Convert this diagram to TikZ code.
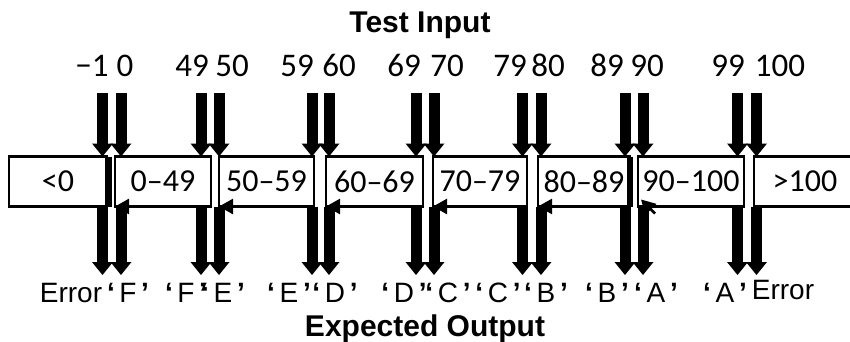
\documentclass[tikz,border=0pt]{standalone}
\usepackage{fontspec}
\setmainfont{Liberation Sans}
\newfontfamily\numfont{Carlito}
\usetikzlibrary{arrows.meta}

\newcommand{\grade}[1]{{\bfseries‘}\,#1\,{\bfseries’}}

\begin{document}
\begin{tikzpicture}[
  x=1pt, y=-1pt,
  bin/.style={draw, line width=2.5pt, inner sep=0pt, outer sep=0pt,
              minimum height=50pt, font=\numfont\fontsize{32}{36}\selectfont},
  num/.style={anchor=base, inner sep=0pt, font=\numfont\fontsize{33}{38}\selectfont},
  res/.style={anchor=base, inner sep=0pt, font=\fontsize{28}{32}\selectfont},
  ttl/.style={anchor=base, inner sep=0pt, font=\bfseries\fontsize{30}{34}\selectfont},
  bigarr/.style={line width=11pt,
                 -{Triangle[length=13pt, width=21pt, line width=0pt]}},
  binarr/.style={line width=2.5pt, -{Triangle[length=14pt, width=15pt]}}
]
\useasboundingbox (0,0) rectangle (850,342);

% ── titles ───────────────────────────────────────────────────────────
\node[ttl] (tin)  at (420,33)  {Test Input};
\node[ttl] (tout) at (425,336) {Expected Output};

% ── test values ──────────────────────────────────────────────────────
\node[num] (vm1)  at (92,77)  {−1};
\node[num] (v0)   at (125,77) {0};
\node[num] (v49)  at (192,77) {49};
\node[num] (v50)  at (232,77) {50};
\node[num] (v59)  at (297,77) {59};
\node[num] (v60)  at (339,77) {60};
\node[num] (v69)  at (404,77) {69};
\node[num] (v70)  at (447,77) {70};
\node[num] (v79)  at (510,77) {79};
\node[num] (v80)  at (548,77) {80};
\node[num] (v89)  at (607,77) {89};
\node[num] (v90)  at (647,77) {90};
\node[num] (v99)  at (728,77) {99};
\node[num] (v100) at (780,77) {100};

% ── equivalence classes ──────────────────────────────────────────────
\node[bin, minimum width=98pt]  (b0) at (58,181.5)  {<0};
\node[bin, minimum width=96pt]  (b1) at (163,181.5) {0–49};
\node[bin, minimum width=95pt]  (b2) at (266.5,181.5) {50–59};
\node[bin, minimum width=97pt]  (b3) at (374.5,181.5) {60–69};
\node[bin, minimum width=94pt]  (b4) at (480,181.5) {70–79};
\node[bin, minimum width=92pt]  (b5) at (584,181.5) {80–89};
\node[bin, minimum width=106pt] (b6) at (691,181.5) {90–100};
\node[bin, minimum width=102pt] (b7) at (805,181.5) {>100};

\draw[line width=7pt] ([xshift=1.5pt]b0.north east) -- ([xshift=1.5pt]b0.south east);
\draw[line width=6pt] (b5.north east) -- (b5.south east);

% ── expected results ─────────────────────────────────────────────────
\node[res] (r1)  at (71,302)  {Error};
\node[res] (r2)  at (128,302) {\grade{F}};
\node[res] (r3)  at (186,302) {\grade{F}};
\node[res] (r4)  at (223,302) {\grade{E}};
\node[res] (r5)  at (289,302) {\grade{E}};
\node[res] (r6)  at (335,302) {\grade{D}};
\node[res] (r7)  at (404,302) {\grade{D}};
\node[res] (r8)  at (448,302) {\grade{C}};
\node[res] (r9)  at (498,302) {\grade{C}};
\node[res] (r10) at (546,302) {\grade{B}};
\node[res] (r11) at (607,302) {\grade{B}};
\node[res] (r12) at (656,302) {\grade{A}};
\node[res] (r13) at (725,302) {\grade{A}};
\node[res] (r14) at (783,299) {Error};

% ── arrow columns ────────────────────────────────────────────────────
\coordinate (p1L) at (102.5,93); \coordinate (p1R) at (121,93);
\coordinate (p2L) at (201,93);   \coordinate (p2R) at (219,93);
\coordinate (p3L) at (312,93);   \coordinate (p3R) at (329,93);
\coordinate (p4L) at (416,93);   \coordinate (p4R) at (434,93);
\coordinate (p5L) at (522.5,93); \coordinate (p5R) at (541,93);
\coordinate (p6L) at (625,93);   \coordinate (p6R) at (643,93);
\coordinate (p7L) at (737.5,93); \coordinate (p7R) at (756.5,93);
\coordinate (outrow) at (0,275);

% ── inputs into the boundaries ───────────────────────────────────────
\draw[bigarr] (p1L) -- (p1L |- b0.north);  \draw[bigarr] (p1R) -- (p1R |- b0.north);
\draw[bigarr] (p2L) -- (p2L |- b0.north);  \draw[bigarr] (p2R) -- (p2R |- b0.north);
\draw[bigarr] (p3L) -- (p3L |- b0.north);  \draw[bigarr] (p3R) -- (p3R |- b0.north);
\draw[bigarr] (p4L) -- (p4L |- b0.north);  \draw[bigarr] (p4R) -- (p4R |- b0.north);
\draw[bigarr] (p5L) -- (p5L |- b0.north);  \draw[bigarr] (p5R) -- (p5R |- b0.north);
\draw[bigarr] (p6L) -- (p6L |- b0.north);  \draw[bigarr] (p6R) -- (p6R |- b0.north);
\draw[bigarr] (p7L) -- (p7L |- b0.north);  \draw[bigarr] (p7R) -- (p7R |- b0.north);

% ── outputs from the boundaries ──────────────────────────────────────
\draw[bigarr] (p1L |- b0.south) -- (p1L |- outrow);  \draw[bigarr] (p1R |- b0.south) -- (p1R |- outrow);
\draw[bigarr] (p2L |- b0.south) -- (p2L |- outrow);  \draw[bigarr] (p2R |- b0.south) -- (p2R |- outrow);
\draw[bigarr] (p3L |- b0.south) -- (p3L |- outrow);  \draw[bigarr] (p3R |- b0.south) -- (p3R |- outrow);
\draw[bigarr] (p4L |- b0.south) -- (p4L |- outrow);  \draw[bigarr] (p4R |- b0.south) -- (p4R |- outrow);
\draw[bigarr] (p5L |- b0.south) -- (p5L |- outrow);  \draw[bigarr] (p5R |- b0.south) -- (p5R |- outrow);
\draw[bigarr] (p6L |- b0.south) -- (p6L |- outrow);  \draw[bigarr] (p6R |- b0.south) -- (p6R |- outrow);
\draw[bigarr] (p7L |- b0.south) -- (p7L |- outrow);  \draw[bigarr] (p7R |- b0.south) -- (p7R |- outrow);

% ── small heads on the class boxes ───────────────────────────────────
\draw[binarr] ([xshift=18pt]b1.south west) -- (b1.south west);
\draw[binarr] ([xshift=18pt]b2.south west) -- (b2.south west);
\draw[binarr] ([xshift=18pt]b3.south west) -- (b3.south west);
\draw[binarr] ([xshift=18pt]b4.south west) -- (b4.south west);
\draw[binarr] ([xshift=18pt]b5.south west) -- (b5.south west);
\coordinate (b6tail) at ([shift={(17,7)}]b6.south west);
\draw[binarr] (b6tail) -- ([shift={(3,-7)}]b6.south west);

\end{tikzpicture}
\end{document}
